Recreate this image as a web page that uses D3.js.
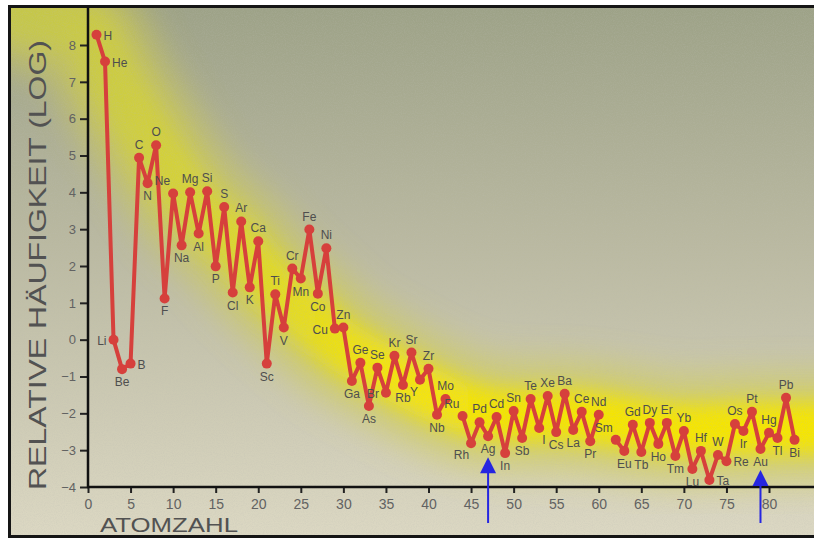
<!DOCTYPE html>
<html>
<head>
<meta charset="utf-8">
<script src="https://cdn.jsdelivr.net/npm/d3@7"></script>
<style>
  body { margin: 0; background: #fff; }
  svg { display: block; font-family: "Liberation Sans", Arial, sans-serif; }
</style>
</head>
<body>
<div id="chart"></div>
<script>
// element symbols, atomic numbers and log relative abundance
var symbols = ['H','He','Li','Be','B','C','N','O','F','Ne','Na','Mg','Al','Si','P','S','Cl','Ar','K','Ca',
  'Sc','Ti','V','Cr','Mn','Fe','Co','Ni','Cu','Zn','Ga','Ge','As','Se','Br','Kr','Rb','Sr','Y','Zr',
  'Nb','Mo','Ru','Rh','Pd','Ag','Cd','In','Sn','Sb','Te','I','Xe','Cs','Ba','La','Ce','Pr','Nd',
  'Sm','Eu','Gd','Tb','Dy','Ho','Er','Tm','Yb','Lu','Hf','Ta','W','Re','Os','Ir','Pt','Au','Hg','Tl','Pb','Bi'];
var atomZ = [1,2,3,4,5,6,7,8,9,10,11,12,13,14,15,16,17,18,19,20,
  21,22,23,24,25,26,27,28,29,30,31,32,33,34,35,36,37,38,39,40,
  41,42,44,45,46,47,48,49,50,51,52,53,54,55,56,57,58,59,60,
  62,63,64,65,66,67,68,69,70,71,72,73,74,75,76,77,78,79,80,81,82,83];
var logAbund = [8.28,7.55,0.0,-0.80,-0.65,4.94,4.25,5.28,1.12,3.97,2.56,4.0,2.88,4.03,1.99,3.6,1.28,3.21,1.42,2.67,
  -0.65,1.23,0.33,1.93,1.66,2.99,1.25,2.48,0.30,0.33,-1.12,-0.63,-1.80,-0.76,-1.44,-0.44,-1.23,-0.35,-1.09,-0.79,
  -2.04,-1.61,-2.07,-2.81,-2.24,-2.62,-2.10,-3.08,-1.94,-2.67,-1.61,-2.40,-1.53,-2.51,-1.47,-2.45,-1.96,-2.76,-2.04,
  -2.72,-3.02,-2.31,-3.05,-2.26,-2.83,-2.26,-3.16,-2.48,-3.51,-3.02,-3.81,-3.13,-3.30,-2.29,-2.48,-1.96,-2.97,-2.53,-2.67,-1.58,-2.72];

// yellow trend band (atomic number, log abundance)
var bandZ = [-8,-3,0,3,7,13,17,20,25,30,35,40,45,50,55,60,70,80,90];
var bandV = [8.9,8.6,8.3,7.0,5.5,3.5,2.7,1.9,0.8,-0.2,-0.85,-1.45,-1.9,-2.05,-2.05,-2.15,-2.45,-2.4,-2.4];

var xTicks = [0,5,10,15,20,25,30,35,40,45,50,55,60,65,70,75,80];
var yTicks = [-4,-3,-2,-1,0,1,2,3,4,5,6,7,8];
var arrowSymbols = ['Ag','Au'];

// label placement around each point: a above, b below, r right, l left
var labelSide = {
  H:'r', He:'r', Li:'l', Be:'b', B:'r', C:'a', N:'b', O:'a', F:'b', Ne:'al', Na:'b', Mg:'a', Al:'b',
  Si:'a', P:'b', S:'a', Cl:'b', Ar:'a', K:'b', Ca:'a', Sc:'b', Ti:'a', V:'b', Cr:'a', Mn:'b',
  Fe:'a', Co:'b', Ni:'a', Cu:'l', Zn:'a', Ga:'b', Ge:'a', As:'b', Se:'a', Br:'l', Kr:'a', Rb:'b',
  Sr:'a', Y:'bl', Zr:'a', Nb:'b', Mo:'a', Ru:'al', Rh:'bl', Pd:'a', Ag:'b', Cd:'a', In:'b', Sn:'a',
  Sb:'b', Te:'a', I:'br', Xe:'a', Cs:'b', Ba:'a', La:'b', Ce:'a', Pr:'b', Nd:'a', Sm:'al', Eu:'b',
  Gd:'a', Tb:'b', Dy:'a', Ho:'b', Er:'a', Tm:'b', Yb:'a', Lu:'b', Hf:'a', Ta:'r', W:'a', Re:'r',
  Os:'a', Ir:'b', Pt:'a', Au:'b', Hg:'a', Tl:'b', Pb:'a', Bi:'b'
};

var width = 814, height = 542;

var svg = d3.select('#chart').append('svg')
  .attr('width', width)
  .attr('height', height);

var x = d3.scaleLinear().domain([0, 80]).range([88, 769]);
var y = d3.scaleLinear().domain([-4, 8]).range([487, 45]);

var defs = svg.append('defs');

var bg = defs.append('linearGradient').attr('id', 'bg')
  .attr('x1', 0).attr('y1', 0).attr('x2', 0).attr('y2', 1);
bg.append('stop').attr('offset', '0%').attr('stop-color', '#9da287');
bg.append('stop').attr('offset', '45%').attr('stop-color', '#bab9a1');
bg.append('stop').attr('offset', '100%').attr('stop-color', '#dcd8c3');

// band colour fades from greenish-yellow (left) to bright yellow (right)
var bandGrad = defs.append('linearGradient').attr('id', 'bandGrad')
  .attr('gradientUnits', 'userSpaceOnUse')
  .attr('x1', 40).attr('y1', 0).attr('x2', 814).attr('y2', 0);
bandGrad.append('stop').attr('offset', '0%').attr('stop-color', '#c8cc3c').attr('stop-opacity', 0.55);
bandGrad.append('stop').attr('offset', '25%').attr('stop-color', '#e0da20').attr('stop-opacity', 0.8);
bandGrad.append('stop').attr('offset', '45%').attr('stop-color', '#f4e408').attr('stop-opacity', 1);
bandGrad.append('stop').attr('offset', '100%').attr('stop-color', '#f6e600').attr('stop-opacity', 1);

defs.append('filter').attr('id', 'blurWide')
  .attr('x', '-20%').attr('y', '-20%').attr('width', '140%').attr('height', '140%')
  .append('feGaussianBlur').attr('stdDeviation', 18);
defs.append('filter').attr('id', 'blurCore')
  .attr('x', '-20%').attr('y', '-20%').attr('width', '140%').attr('height', '140%')
  .append('feGaussianBlur').attr('stdDeviation', 10);

var grain = defs.append('filter').attr('id', 'grain');
grain.append('feTurbulence').attr('type', 'fractalNoise')
  .attr('baseFrequency', 0.9).attr('numOctaves', 2).attr('seed', 3);
grain.append('feColorMatrix').attr('type', 'matrix')
  .attr('values', '0 0 0 0 0.5  0 0 0 0 0.5  0 0 0 0 0.45  0 0 0 1.2 -0.45');

defs.append('clipPath').attr('id', 'frameClip')
  .append('rect').attr('x', 10).attr('y', 7).attr('width', 820).attr('height', 529);

// frame background
svg.append('rect')
  .attr('x', 9.5).attr('y', 6.5).attr('width', 830).attr('height', 530)
  .attr('fill', 'url(#bg)');

// yellow glow band
var bandData = bandZ.map(function(z, i) { return [z, bandV[i]]; });
var bandLine = d3.line()
  .x(function(d) { return x(d[0]); })
  .y(function(d) { return y(d[1]); })
  .curve(d3.curveMonotoneX);

var glow = svg.append('g').attr('clip-path', 'url(#frameClip)');
glow.append('path')
  .attr('d', bandLine(bandData))
  .attr('fill', 'none')
  .attr('stroke', '#d2cf4a')
  .attr('stroke-width', 105)
  .attr('stroke-linecap', 'round')
  .attr('opacity', 0.7)
  .attr('filter', 'url(#blurWide)');
glow.append('path')
  .attr('d', bandLine(bandData))
  .attr('fill', 'none')
  .attr('stroke', 'url(#bandGrad)')
  .attr('stroke-width', 50)
  .attr('stroke-linecap', 'round')
  .attr('filter', 'url(#blurCore)');

// film grain
glow.append('rect')
  .attr('x', 9).attr('y', 6).attr('width', 830).attr('height', 532)
  .attr('filter', 'url(#grain)')
  .attr('opacity', 0.35);

// outer frame
svg.append('rect')
  .attr('x', 9.5).attr('y', 6.5).attr('width', 830).attr('height', 530)
  .attr('fill', 'none')
  .attr('stroke', '#151515')
  .attr('stroke-width', 3);

// axes
var yAxis = d3.axisLeft(y).tickValues(yTicks).tickSize(8).tickPadding(4)
  .tickFormat(d3.format('d'));
var gy = svg.append('g').attr('transform', 'translate(' + x(0) + ',0)').call(yAxis);
gy.select('.domain').remove();
gy.append('line')
  .attr('x1', 0).attr('x2', 0).attr('y1', 7).attr('y2', y(-4) + 1)
  .attr('stroke', '#111').attr('stroke-width', 2.5);

var xAxis = d3.axisBottom(x).tickValues(xTicks).tickSize(6).tickPadding(6);
var gx = svg.append('g').attr('transform', 'translate(0,' + y(-4) + ')').call(xAxis);
gx.select('.domain').remove();
gx.append('line')
  .attr('x1', x(0) - 1).attr('x2', width + 5).attr('y1', 0).attr('y2', 0)
  .attr('stroke', '#111').attr('stroke-width', 2.5);

svg.selectAll('.tick line').attr('stroke', '#222').attr('stroke-width', 2);
gy.selectAll('.tick text').attr('font-size', 13).attr('fill', '#626262')
  .attr('font-family', '"Liberation Sans", Arial, sans-serif');
gx.selectAll('.tick text').attr('font-size', 14).attr('fill', '#626262')
  .attr('font-family', '"Liberation Sans", Arial, sans-serif');

// axis titles
svg.append('text')
  .attr('transform', 'translate(46,265) rotate(-90)')
  .attr('text-anchor', 'middle')
  .attr('font-size', 24)
  .attr('fill', '#525252')
  .attr('textLength', 450)
  .attr('lengthAdjust', 'spacingAndGlyphs')
  .text('RELATIVE HÄUFIGKEIT (LOG)');

svg.append('text')
  .attr('x', 100).attr('y', 532)
  .attr('font-size', 21)
  .attr('fill', '#525252')
  .attr('textLength', 138)
  .attr('lengthAdjust', 'spacingAndGlyphs')
  .text('ATOMZAHL');

// abundance line, broken where an element is missing (Tc, Pm)
var points = symbols.map(function(s, i) { return { sym: s, z: atomZ[i], v: logAbund[i] }; });
var lineData = [];
points.forEach(function(p, i) {
  if (i > 0 && p.z - points[i - 1].z > 1) lineData.push(null);
  lineData.push(p);
});

var line = d3.line()
  .defined(function(d) { return d !== null; })
  .x(function(d) { return x(d.z); })
  .y(function(d) { return y(d.v); });

svg.append('path')
  .attr('d', line(lineData))
  .attr('fill', 'none')
  .attr('stroke', '#d6403c')
  .attr('stroke-width', 4)
  .attr('stroke-linejoin', 'round');

svg.append('g').selectAll('circle')
  .data(points)
  .enter().append('circle')
  .attr('cx', function(d) { return x(d.z); })
  .attr('cy', function(d) { return y(d.v); })
  .attr('r', 5)
  .attr('fill', '#d6403c');

var offsets = {
  a:  [0, -9, 'middle'],
  b:  [0, 17, 'middle'],
  r:  [7, 5, 'start'],
  l:  [-7, 5, 'end'],
  ar: [3, -8, 'start'],
  al: [-3, -8, 'end'],
  br: [3, 16, 'start'],
  bl: [-2, 16, 'end']
};

svg.append('g').selectAll('text')
  .data(points)
  .enter().append('text')
  .attr('x', function(d) { return x(d.z) + offsets[labelSide[d.sym]][0]; })
  .attr('y', function(d) { return y(d.v) + offsets[labelSide[d.sym]][1]; })
  .attr('text-anchor', function(d) { return offsets[labelSide[d.sym]][2]; })
  .attr('font-size', 12)
  .attr('fill', '#4e4e4e')
  .text(function(d) { return d.sym; });

// blue arrows pointing at silver and gold
var arrowPts = points.filter(function(d) { return arrowSymbols.indexOf(d.sym) >= 0; });
var arrows = svg.append('g').selectAll('g')
  .data(arrowPts)
  .enter().append('g')
  .attr('transform', function(d) { return 'translate(' + x(d.z) + ',' + (y(d.v) + 21) + ')'; });
arrows.append('line')
  .attr('x1', 0).attr('x2', 0)
  .attr('y1', 12)
  .attr('y2', function(d) { return 523 - (y(d.v) + 21); })
  .attr('stroke', '#2626e0')
  .attr('stroke-width', 2);
arrows.append('path')
  .attr('d', 'M0,0L8,16L-8,16Z')
  .attr('fill', '#2626e0');
</script>
</body>
</html>
